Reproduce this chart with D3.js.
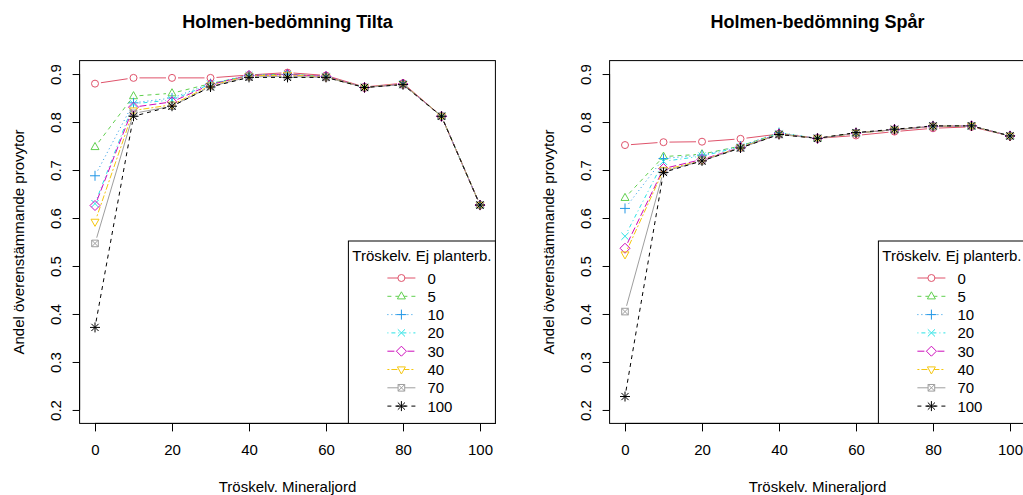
<!DOCTYPE html>
<html>
<head>
<meta charset="utf-8">
<script src="https://cdn.jsdelivr.net/npm/d3@7"></script>
<style>
  body { margin: 0; background: #fff; }
  svg { font-family: "Liberation Sans", Arial, sans-serif; }
</style>
</head>
<body>
<svg id="chart" width="1023" height="495"></svg>
<script>
// data
var xVals = [0, 10, 20, 30, 40, 50, 60, 70, 80, 90, 100];
var seriesNames = ["0", "5", "10", "20", "30", "40", "70", "100"];
var yTicks = [0.2, 0.3, 0.4, 0.5, 0.6, 0.7, 0.8, 0.9];
var xTicks = [0, 20, 40, 60, 80, 100];

var tiltaValues = [
  [0.880, 0.892, 0.892, 0.892, 0.898, 0.903, 0.897, 0.873, 0.881, 0.812, 0.627],
  [0.748, 0.854, 0.860, 0.880, 0.897, 0.900, 0.895, 0.872, 0.879, 0.812, 0.627],
  [0.688, 0.840, 0.850, 0.880, 0.897, 0.899, 0.895, 0.872, 0.879, 0.812, 0.627],
  [0.630, 0.838, 0.846, 0.879, 0.897, 0.899, 0.895, 0.872, 0.879, 0.812, 0.627],
  [0.626, 0.831, 0.842, 0.878, 0.897, 0.899, 0.895, 0.872, 0.879, 0.812, 0.627],
  [0.592, 0.824, 0.836, 0.876, 0.896, 0.898, 0.894, 0.872, 0.879, 0.812, 0.627],
  [0.547, 0.818, 0.833, 0.874, 0.894, 0.895, 0.893, 0.872, 0.878, 0.812, 0.627],
  [0.372, 0.812, 0.833, 0.873, 0.893, 0.893, 0.893, 0.872, 0.878, 0.812, 0.627]
];

var sparValues = [
  [0.752, 0.758, 0.759, 0.765, 0.775, 0.766, 0.772, 0.780, 0.787, 0.790, 0.771],
  [0.642, 0.728, 0.733, 0.750, 0.777, 0.766, 0.777, 0.784, 0.791, 0.792, 0.771],
  [0.620, 0.724, 0.731, 0.750, 0.778, 0.766, 0.777, 0.784, 0.791, 0.792, 0.771],
  [0.562, 0.718, 0.729, 0.748, 0.776, 0.766, 0.777, 0.784, 0.791, 0.792, 0.771],
  [0.537, 0.703, 0.722, 0.747, 0.775, 0.766, 0.777, 0.784, 0.791, 0.792, 0.771],
  [0.524, 0.700, 0.720, 0.747, 0.775, 0.766, 0.777, 0.784, 0.791, 0.792, 0.771],
  [0.405, 0.697, 0.719, 0.746, 0.774, 0.766, 0.777, 0.784, 0.791, 0.792, 0.771],
  [0.228, 0.695, 0.719, 0.746, 0.774, 0.766, 0.778, 0.785, 0.792, 0.792, 0.771]
];

// R-ish styles: col 2..9, lty 1..6 then recycled, pch 1..8
var colors = ["#DF536B", "#61D04F", "#2297E6", "#28E2E5", "#CD0BBC", "#F5C710", "#9E9E9E", "#000000"];
var dashes = [null, "4,4", "1,3", "1,3,4,3", "7,3", "2,2,6,2", null, "4,4"];

var svg = d3.select("#chart");

function symbolPath(k) {
  var p = d3.path();
  if (k == 0) {
    p.moveTo(3.5, 0); p.arc(0, 0, 3.5, 0, 2 * Math.PI);
  } else if (k == 1) {
    p.moveTo(0, -4.5); p.lineTo(4, 2.6); p.lineTo(-4, 2.6); p.closePath();
  } else if (k == 2) {
    p.moveTo(-5, 0); p.lineTo(5, 0); p.moveTo(0, -5); p.lineTo(0, 5);
  } else if (k == 3) {
    p.moveTo(-3.6, -3.6); p.lineTo(3.6, 3.6); p.moveTo(-3.6, 3.6); p.lineTo(3.6, -3.6);
  } else if (k == 4) {
    p.moveTo(0, -5); p.lineTo(5, 0); p.lineTo(0, 5); p.lineTo(-5, 0); p.closePath();
  } else if (k == 5) {
    p.moveTo(0, 4.5); p.lineTo(4, -2.6); p.lineTo(-4, -2.6); p.closePath();
  } else if (k == 6) {
    p.rect(-3.3, -3.3, 6.6, 6.6);
    p.moveTo(-3.3, -3.3); p.lineTo(3.3, 3.3); p.moveTo(-3.3, 3.3); p.lineTo(3.3, -3.3);
  } else {
    p.moveTo(-5, 0); p.lineTo(5, 0); p.moveTo(0, -5); p.lineTo(0, 5);
    p.moveTo(-3.6, -3.6); p.lineTo(3.6, 3.6); p.moveTo(-3.6, 3.6); p.lineTo(3.6, -3.6);
  }
  return p.toString();
}

function drawPanel(title, values, left, right) {
  var x = d3.scaleLinear().domain([-4, 104]).range([left, right]);
  var y = d3.scaleLinear().domain([0.172, 0.928]).range([423.4, 60.6]);
  var g = svg.append("g");

  // series, type = "b" (lines broken around the points)
  values.forEach(function (vals, k) {
    var pts = vals.map(function (v, i) { return [x(xVals[i]), y(v)]; });
    var gap = 6;
    for (var i = 0; i < pts.length - 1; i++) {
      var dx = pts[i + 1][0] - pts[i][0], dy = pts[i + 1][1] - pts[i][1];
      var len = Math.sqrt(dx * dx + dy * dy);
      if (len <= 2 * gap) continue;
      var ux = dx / len, uy = dy / len;
      g.append("line")
        .attr("x1", pts[i][0] + ux * gap).attr("y1", pts[i][1] + uy * gap)
        .attr("x2", pts[i + 1][0] - ux * gap).attr("y2", pts[i + 1][1] - uy * gap)
        .attr("stroke", colors[k])
        .attr("stroke-width", 1)
        .attr("stroke-dasharray", dashes[k]);
    }
    g.selectAll(null)
      .data(pts)
      .enter().append("path")
      .attr("transform", function (d) { return "translate(" + d[0] + "," + d[1] + ")"; })
      .attr("d", symbolPath(k))
      .attr("fill", "none")
      .attr("stroke", colors[k])
      .attr("stroke-width", 1);
  });

  // box
  g.append("rect")
    .attr("x", left).attr("y", 60.6)
    .attr("width", right - left).attr("height", 423.4 - 60.6)
    .attr("fill", "none").attr("stroke", "#000").attr("stroke-width", 1);

  // x axis
  var xa = g.append("g")
    .attr("transform", "translate(0,423.4)")
    .call(d3.axisBottom(x).tickValues(xTicks).tickSize(8).tickPadding(13).tickFormat(d3.format("d")));
  xa.select(".domain").remove();
  xa.append("line").attr("x1", x(0)).attr("x2", x(100)).attr("stroke", "#000");
  xa.selectAll("text").attr("font-size", 15).attr("fill", "#000").attr("font-family", null);
  xa.selectAll("line").attr("stroke", "#000");

  // y axis, labels parallel to the axis like R
  var ya = g.append("g")
    .attr("transform", "translate(" + left + ",0)")
    .call(d3.axisLeft(y).tickValues(yTicks).tickSize(7).tickFormat(d3.format(".1f")));
  ya.select(".domain").remove();
  ya.append("line").attr("y1", y(0.2)).attr("y2", y(0.9)).attr("stroke", "#000");
  ya.selectAll("line").attr("stroke", "#000");
  ya.selectAll("text")
    .attr("transform", "rotate(-90)")
    .attr("x", 0).attr("y", -19).attr("dy", null)
    .attr("text-anchor", "middle")
    .attr("font-size", 15).attr("fill", "#000").attr("font-family", null);

  var cx = (left + right) / 2;
  g.append("text")
    .attr("x", cx).attr("y", 28)
    .attr("text-anchor", "middle")
    .attr("font-size", 18).attr("font-weight", "bold")
    .text(title);

  // sits on the bottom edge, as in the source
  g.append("text")
    .attr("x", cx).attr("y", 492)
    .attr("text-anchor", "middle")
    .attr("font-size", 15)
    .text("Tröskelv. Mineraljord");

  g.append("text")
    .attr("transform", "translate(" + (left - 56) + ",242) rotate(-90)")
    .attr("text-anchor", "middle")
    .attr("font-size", 15)
    .text("Andel överenstämmande provytor");

  // legend in the bottom right corner
  var lw = 147, lTop = 241;
  var lg = g.append("g").attr("transform", "translate(" + (right - lw) + "," + lTop + ")");
  lg.append("rect")
    .attr("width", lw).attr("height", 423.4 - lTop)
    .attr("fill", "#fff").attr("stroke", "#000");
  lg.append("text")
    .attr("x", lw / 2).attr("y", 20)
    .attr("text-anchor", "middle")
    .attr("font-size", 15)
    .text("Tröskelv. Ej planterb.");
  seriesNames.forEach(function (name, k) {
    var yy = 37 + k * 18.3;
    lg.append("line")
      .attr("x1", 39).attr("x2", 67).attr("y1", yy).attr("y2", yy)
      .attr("stroke", colors[k]).attr("stroke-dasharray", dashes[k]);
    lg.append("path")
      .attr("transform", "translate(53," + yy + ")")
      .attr("d", symbolPath(k))
      .attr("fill", "#fff")
      .attr("stroke", colors[k]);
    lg.append("text")
      .attr("x", 79).attr("y", yy + 5.5)
      .attr("font-size", 15)
      .text(name);
  });
}

drawPanel("Holmen-bedömning Tilta", tiltaValues, 79.6, 495.4);
drawPanel("Holmen-bedömning Spår", sparValues, 609.6, 1025.4);
</script>
</body>
</html>
